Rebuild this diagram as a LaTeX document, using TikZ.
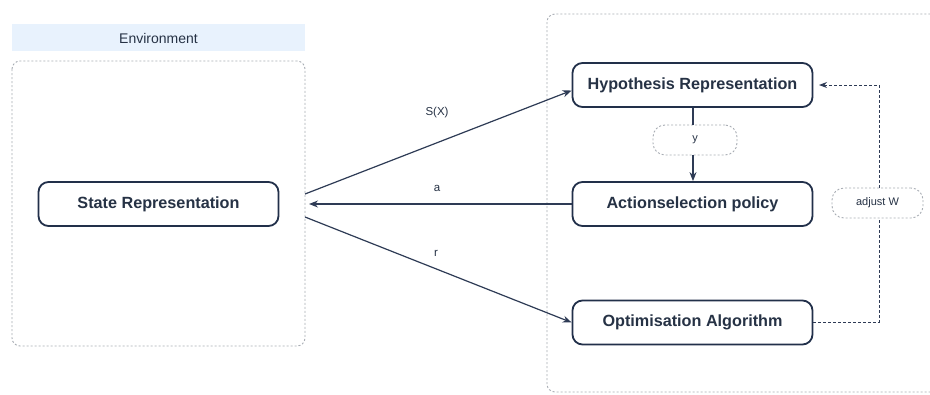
\documentclass[tikz,border=0pt]{standalone}
\usepackage{fontspec}
\setmainfont{Liberation Sans}
\usetikzlibrary{arrows.meta}
\definecolor{navy}{HTML}{22304A}
\definecolor{inktext}{HTML}{263245}
\definecolor{edge}{HTML}{2E3B55}
\definecolor{dashgray}{HTML}{A8ADB4}
\definecolor{bandblue}{HTML}{E8F2FD}
\tikzset{
  x=1pt, y=-1pt,
  procbox/.style={draw=navy, line width=1.8pt, rounded corners=10pt, fill=white,
    minimum width=240pt, minimum height=44pt, text=inktext,
    font=\fontsize{16.2}{18}\selectfont\bfseries},
  tagbox/.style={draw=dashgray, line width=0.9pt, dash pattern=on 2pt off 2pt,
    rounded corners=12pt, fill=white, text=inktext, font=\fontsize{11}{12}\selectfont},
  frame/.style={draw=dashgray, line width=0.9pt, dash pattern=on 2pt off 2pt, rounded corners=8pt},
  flow/.style={draw=edge, line width=1.2pt, -{Stealth[length=9pt,width=7pt]}},
  feedback/.style={draw=edge, line width=1pt, dash pattern=on 3pt off 2pt},
  lbl/.style={text=inktext, font=\fontsize{11.5}{13}\selectfont},
}
\begin{document}
\begin{tikzpicture}
\useasboundingbox (0,0) rectangle (930,394);
\clip (0,0) rectangle (930,394);
\fill[white] (0,0) rectangle (930,394);

% environment panel
\fill[bandblue] (12,24) rectangle (305,51);
\node[text=inktext, font=\fontsize{14}{16}\selectfont] (envtitle) at (158.5,38) {Environment};
\draw[frame] (12,61) rectangle (305,346);

% agent panel (runs past the right edge)
\draw[frame] (547,14) rectangle (960,392);

% process boxes
\node[procbox] (state) at (158.5,204) {State Representation};
\node[procbox] (hyp) at (692.5,85) {Hypothesis Representation};
\node[procbox] (act) at (692.5,204) {Actionselection policy};
\node[procbox] (opt) at (692.5,322.5) {Optimisation Algorithm};

% small tags
\node[tagbox, minimum width=84pt, minimum height=30pt] (ytag) at (695,140) {y};
\node[tagbox, minimum width=91pt, minimum height=30pt] (wtag) at (877.5,203) {adjust W};

% flows between environment and agent
\coordinate (sOut) at (305,194);
\coordinate (sIn) at (309,204);
\coordinate (rOut) at (305,217);
\draw[flow] (sOut) -- (hyp.west |- 0,90.5) coordinate (hIn);
\draw[flow] (act.west) -- (sIn);
\draw[flow] (rOut) -- (opt.west |- 0,322.5);
\node[lbl] (lsx) at (437,113) {S(X)};
\node[lbl] (la) at (437,188) {a};
\node[lbl] (lr) at (436,253) {r};

% hypothesis -> y -> action
\draw[edge, line width=1.2pt] (hyp.south -| 693,0) -- (ytag.north -| 693,0);
\draw[flow] (ytag.south -| 693,0) -- (act.north -| 693,0);

% feedback loop through adjust W
\coordinate (fbCorner) at (879,322.5);
\coordinate (fbTop) at (879,85);
\coordinate (fbTip) at (819,85);
\draw[feedback] (opt.east) -- (fbCorner) -- (wtag.south -| 879,0);
\draw[feedback, -{Stealth[length=8pt,width=6pt]}] (wtag.north -| 879,0) -- (fbTop) -- (fbTip);
\end{tikzpicture}
\end{document}
